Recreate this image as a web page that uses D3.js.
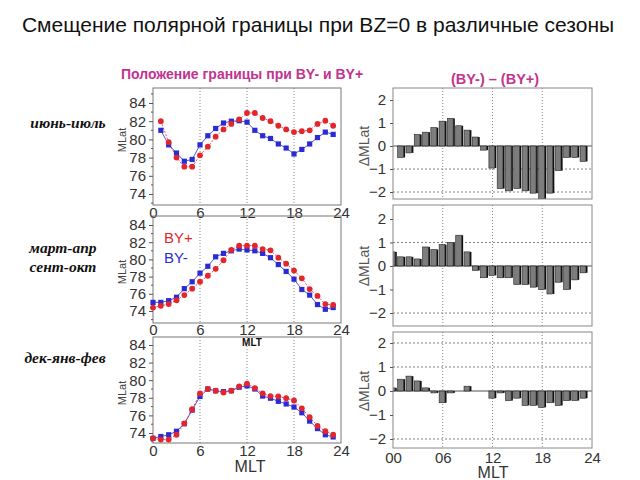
<!DOCTYPE html>
<html><head><meta charset="utf-8">
<script src="https://cdn.jsdelivr.net/npm/d3@7"></script>
<style>body{margin:0;background:#fff} svg{display:block}</style>
</head><body><svg id="c" width="640" height="480"></svg>
<script>
// ---------- DATA ----------
const titleText = "Смещение полярной границы при BZ=0 в различные сезоны";
const leftHeader = "Положение границы при BY- и BY+";
const rightHeader = "(BY-) – (BY+)";
const seasons = [["июнь-июль"], ["март-апр", "сент-окт"], ["дек-янв-фев"]];
const legendLabels = ["BY+", "BY-"];

const hoursJunJul = [1,2,3,4,5,6,7,8,9,10,11,12,13,14,15,16,17,18,19,20,21,22,23];
const hoursFull = [0,1,2,3,4,5,6,7,8,9,10,11,12,13,14,15,16,17,18,19,20,21,22,23];

const junJulByPlus  = [82.0,79.7,78.0,77.0,77.0,78.25,79.2,80.3,81.1,81.7,82.2,82.9,82.9,82.35,82.0,81.5,81.1,80.8,80.9,81.0,81.7,82.05,81.5];
const junJulByMinus = [81.0,79.4,78.5,77.6,77.8,79.4,80.4,81.2,81.8,82.0,82.05,81.9,81.0,80.4,80.1,79.5,79.05,78.4,78.9,79.5,80.2,80.8,80.55];

const marSepByPlus  = [74.4,74.6,74.8,75.25,75.85,76.6,77.4,78.1,78.9,79.9,81.1,81.6,81.6,81.6,81.2,81.05,80.2,79.5,78.7,77.8,76.55,75.75,74.8,74.7];
const marSepByMinus = [75.0,75.0,75.2,75.6,76.6,77.4,78.4,79.2,80.3,80.7,81.0,81.2,81.1,81.0,80.7,80.2,79.4,78.6,77.7,76.5,75.85,74.75,74.2,74.4];

const decFebByPlus  = [73.4,73.25,73.25,73.8,75.1,76.7,78.5,79.0,78.8,78.6,78.8,79.3,79.6,79.1,78.5,78.2,78.15,77.95,77.7,76.8,75.8,74.8,74.2,73.8];
const decFebByMinus = [73.4,73.6,73.8,74.2,75.05,76.6,78.15,79.0,78.8,78.7,78.8,79.2,79.35,79.0,78.2,77.95,77.6,77.3,76.95,76.3,75.35,74.5,73.8,73.55];

const diffJunJul = [-0.5,-0.3,0.5,0.6,0.8,1.08,1.2,0.88,0.69,0.39,-0.18,-0.96,-1.85,-1.95,-1.85,-1.95,-2.05,-2.3,-2.05,-1.07,-0.5,-0.5,-0.67];
const diffMarSep = [0.6,0.39,0.39,0.3,0.81,0.7,0.91,1.0,1.31,0.6,-0.19,-0.5,-0.4,-0.5,-0.5,-0.79,-0.79,-0.9,-1.0,-1.19,-0.69,-1.0,-0.59,-0.29];
const diffDecFeb = [0.13,0.49,0.62,0.42,0.13,-0.08,-0.49,-0.08,0,0.2,0,0,-0.3,-0.08,-0.4,-0.3,-0.6,-0.6,-0.68,-0.49,-0.6,-0.4,-0.4,-0.3];

const latTicks = [74,76,78,80,82,84];
const latMinor = [73,75,77,79,81,83,85];
const mltTicks = [0,6,12,18,24];
const mltTickLabelsRight = ["00","06","12","18","24"];
const diffTicks = [2,1,0,-1,-2];

// ---------- LAYOUT ----------
const RED = "#e3262c", BLUE = "#2b2bd6", MAG = "#c2338f";
const svg = d3.select("#c");
const FONT = "Liberation Sans, Arial, sans-serif";

svg.append("text").attr("x", 318).attr("y", 32).attr("text-anchor","middle")
  .attr("font-family", FONT).attr("font-size", 21).attr("fill","#111").text(titleText);
svg.append("text").attr("x", 242).attr("y", 79).attr("text-anchor","middle")
  .attr("font-family", FONT).attr("font-size", 14).attr("font-weight","bold").attr("fill",MAG).text(leftHeader);
svg.append("text").attr("x", 495).attr("y", 84).attr("text-anchor","middle")
  .attr("font-family", FONT).attr("font-size", 14.5).attr("font-weight","bold").attr("fill",MAG).text(rightHeader);

const seasonPos = [{x:68, y:[128]}, {x:63, y:[253,272]}, {x:65, y:[363]}];
seasons.forEach((lines,i)=>{
  lines.forEach((t,j)=>{
    svg.append("text").attr("x", seasonPos[i].x).attr("y", seasonPos[i].y[j]).attr("text-anchor","middle")
      .attr("font-family","Liberation Serif, Times New Roman, serif").attr("font-style","italic").attr("font-weight","bold")
      .attr("font-size", 15.5).attr("fill","#111").text(t);
  });
});

const leftPanels = [
  {hours: hoursJunJul, plus: junJulByPlus, minus: junJulByMinus, top:88, bottom:205, y84:103, y74:194, lab:212, mlat:140},
  {hours: hoursFull, plus: marSepByPlus, minus: marSepByMinus, top:216, bottom:323, y84:225, y74:311, lab:329, mlat:272},
  {hours: hoursFull, plus: decFebByPlus, minus: decFebByMinus, top:337, bottom:443, y84:345, y74:433, lab:450, mlat:393}
];
const LX0 = 153, LX1 = 341;

leftPanels.forEach((p, i)=>{
  const g = svg.append("g");
  const x = d3.scaleLinear().domain([0,24]).range([LX0, LX1]);
  const y = d3.scaleLinear().domain([74,84]).range([p.y74, p.y84]);
  g.append("rect").attr("x",LX0).attr("y",p.top).attr("width",LX1-LX0).attr("height",p.bottom-p.top)
    .attr("fill","none").attr("stroke","#777").attr("stroke-width",1);
  [6,12,18].forEach(v=>{
    g.append("line").attr("x1",x(v)).attr("x2",x(v)).attr("y1",p.top).attr("y2",p.bottom)
      .attr("stroke","#666").attr("stroke-width",0.8).attr("stroke-dasharray","1,2");
  });
  const ya = g.append("g").attr("transform",`translate(${LX0},0)`)
    .call(d3.axisLeft(y).tickValues(latTicks).tickSize(4).tickPadding(3).tickFormat(d3.format("d")));
  ya.select(".domain").remove();
  ya.selectAll("line").attr("stroke","#555");
  ya.selectAll("text").attr("font-family",FONT).attr("font-size",15).attr("fill","#333");
  latMinor.filter(v=>y(v)>p.top && y(v)<p.bottom).forEach(v=>{
    g.append("line").attr("x1",LX0-2).attr("x2",LX0).attr("y1",y(v)).attr("y2",y(v)).attr("stroke","#555");
  });
  const xa = g.append("g").attr("transform",`translate(0,${p.lab-5})`)
    .call(d3.axisBottom(x).tickValues(mltTicks).tickSize(0).tickPadding(0).tickFormat(d3.format("d")));
  xa.select(".domain").remove();
  xa.selectAll("text").attr("font-family",FONT).attr("font-size",15).attr("fill","#333");
  g.append("text").attr("transform",`translate(126,${p.mlat}) rotate(-90)`).attr("text-anchor","middle")
    .attr("font-family",FONT).attr("font-size",11).attr("fill","#444").text("MLat");
  const line = d3.line().x((d,k)=>x(p.hours[k])).y(d=>y(d));
  g.append("path").datum(p.minus).attr("d",line).attr("fill","none").attr("stroke",BLUE).attr("stroke-width",0.8);
  g.append("path").datum(p.plus).attr("d",line).attr("fill","none").attr("stroke",RED).attr("stroke-width",0.8).attr("stroke-dasharray","2,1.5");
  g.selectAll(".sq").data(p.minus).enter().append("rect")
    .attr("x",(d,k)=>x(p.hours[k])-2.6).attr("y",d=>y(d)-2.6).attr("width",5.2).attr("height",5.2).attr("fill",BLUE);
  g.selectAll(".ci").data(p.plus).enter().append("circle")
    .attr("cx",(d,k)=>x(p.hours[k])).attr("cy",d=>y(d)).attr("r",2.9).attr("fill",RED);
});

svg.append("text").attr("x",164).attr("y",243).attr("font-family",FONT).attr("font-size",15).attr("fill",RED).text(legendLabels[0]);
svg.append("text").attr("x",164).attr("y",263).attr("font-family",FONT).attr("font-size",15).attr("fill",BLUE).text(legendLabels[1]);
svg.append("text").attr("x",252).attr("y",346).attr("text-anchor","middle").attr("font-family",FONT)
  .attr("font-size",10).attr("font-weight","bold").attr("fill","#111").text("MLT");
svg.append("text").attr("x",250).attr("y",472).attr("text-anchor","middle").attr("font-family",FONT)
  .attr("font-size",16).attr("fill","#333").text("MLT");
svg.append("text").attr("x",493).attr("y",478).attr("text-anchor","middle").attr("font-family",FONT)
  .attr("font-size",16).attr("fill","#333").text("MLT");

const rightPanels = [
  {hours: hoursJunJul, vals: diffJunJul, top:88, bottom:199, y0:146, y2:100, grid:[-1,-2]},
  {hours: hoursFull, vals: diffMarSep, top:205, bottom:326, y0:266, y2:219, grid:[1,-2]},
  {hours: hoursFull, vals: diffDecFeb, top:332, bottom:448, y0:391, y2:343, grid:[2,1,-2]}
];
const RX0 = 393, RX1 = 592;
rightPanels.forEach((p,i)=>{
  const g = svg.append("g");
  const x = d3.scaleLinear().domain([0,24]).range([RX0,RX1]);
  const y = d3.scaleLinear().domain([0,2]).range([p.y0,p.y2]);
  const cid = "clipR"+i;
  svg.append("clipPath").attr("id",cid).append("rect").attr("x",RX0).attr("y",p.top).attr("width",RX1-RX0).attr("height",p.bottom-p.top);
  [6,12,18].forEach(v=>{
    g.append("line").attr("x1",x(v)).attr("x2",x(v)).attr("y1",p.top).attr("y2",p.bottom)
      .attr("stroke","#666").attr("stroke-width",0.8).attr("stroke-dasharray","1,2");
  });
  p.grid.forEach(v=>{
    g.append("line").attr("x1",RX0).attr("x2",RX1).attr("y1",y(v)).attr("y2",y(v))
      .attr("stroke","#666").attr("stroke-width",0.8).attr("stroke-dasharray","2,2");
  });
  const bars = g.append("g").attr("clip-path",`url(#${cid})`);
  bars.append("line").attr("x1",RX0).attr("x2",RX1).attr("y1",y(0)).attr("y2",y(0)).attr("stroke","#222").attr("stroke-width",0.8);
  const data = p.vals.map((v,k)=>({h:p.hours[k], v})).filter(d=>d.v!==0);
  bars.selectAll(".sh").data(data).enter().append("rect")
    .attr("x",d=>x(d.h)+2.1).attr("width",1.7)
    .attr("y",d=>Math.min(y(d.v),y(0))).attr("height",d=>Math.abs(y(d.v)-y(0))).attr("fill","#111");
  bars.selectAll(".br").data(data).enter().append("rect")
    .attr("x",d=>x(d.h)-3.6).attr("width",5.7)
    .attr("y",d=>Math.min(y(d.v),y(0))).attr("height",d=>Math.abs(y(d.v)-y(0)))
    .attr("fill","#7d7d7d").attr("stroke","#222").attr("stroke-width",0.6);
  g.append("rect").attr("x",RX0).attr("y",p.top).attr("width",RX1-RX0).attr("height",p.bottom-p.top)
    .attr("fill","none").attr("stroke","#888").attr("stroke-width",1);
  const ya = g.append("g").attr("transform",`translate(${RX0},0)`)
    .call(d3.axisLeft(y).tickValues(diffTicks).tickSize(3).tickPadding(4).tickFormat(d3.format("d")));
  ya.select(".domain").remove();
  ya.selectAll("line").attr("stroke","#555");
  ya.selectAll("text").attr("font-family",FONT).attr("font-size",15).attr("fill","#333");
  g.append("text").attr("transform",`translate(369,${p.y0}) rotate(-90)`).attr("text-anchor","middle")
    .attr("font-family",FONT).attr("font-size",14).attr("fill","#555").text("ΔMLat");
  if (i===2) {
    const xa = g.append("g").attr("transform",`translate(0,${p.bottom+4})`)
      .call(d3.axisBottom(x).tickValues(mltTicks).tickSize(0).tickPadding(0).tickFormat((d,k)=>mltTickLabelsRight[k]));
    xa.select(".domain").remove();
    xa.selectAll("text").attr("font-family",FONT).attr("font-size",15).attr("fill","#333");
  }
});
</script></body></html>
